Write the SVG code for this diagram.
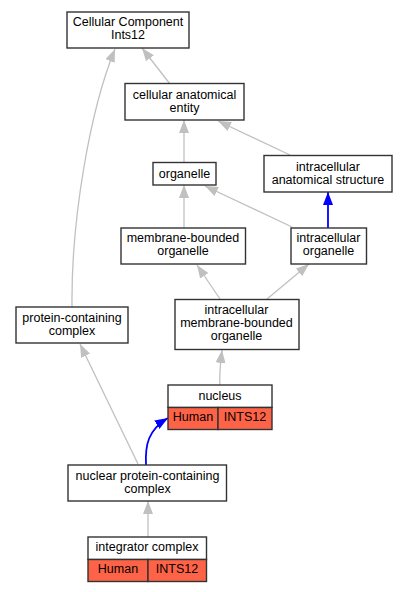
<svg xmlns="http://www.w3.org/2000/svg" width="408" height="592" viewBox="0 0 408 592">
<style>
.box{fill:#fff;stroke:#333;stroke-width:1.4}
.hit{fill:#ff6347;stroke:#333;stroke-width:1.4}
text{font-family:"Liberation Sans",Arial,sans-serif;font-size:12.5px;fill:#000;text-anchor:middle}
.e{fill:none;stroke:#c0c0c0;stroke-width:1.3;marker-end:url(#ag)}
.b{fill:none;stroke:#0000ff;stroke-width:1.8;marker-end:url(#ab)}
</style>
<defs>
<marker id="ag" markerUnits="userSpaceOnUse" markerWidth="13" markerHeight="10" viewBox="0 0 13 10" refX="13" refY="5" orient="auto"><path d="M0,0 L13,5 L0,10 z" fill="#c0c0c0"/></marker>
<marker id="ab" markerUnits="userSpaceOnUse" markerWidth="13" markerHeight="10" viewBox="0 0 13 10" refX="13" refY="5" orient="auto"><path d="M0,0 L13,5 L0,10 z" fill="#0000ff"/></marker>
</defs>
<g id="edges">
<path class="e" d="M170,84 L142,48"/>
<path class="e" d="M72,307 C71,220 90,110 115,49"/>
<path class="e" d="M184,162 L184,120"/>
<path class="e" d="M290,155 L218,121"/>
<path class="e" d="M184,228 L184,185"/>
<path class="e" d="M292,227 L205,186"/>
<path class="b" d="M328,228 L328,192"/>
<path class="e" d="M220,299 L197,265"/>
<path class="e" d="M267,299 L309,264"/>
<path class="e" d="M220,385 C219,375 220,368 222,350"/>
<path class="e" d="M138,464 L80,344"/>
<path class="b" d="M146,465 C145,445 148,430 168,418"/>
<path class="e" d="M148,537 L148,501"/>
</g>
<g id="cc"><rect class="box" x="67" y="12" width="122" height="36"/><text x="128" y="26">Cellular Component</text><text x="128" y="39">Ints12</text></g>
<g id="cae"><rect class="box" x="125" y="83.5" width="119" height="36.5"/><text x="184.5" y="98.5">cellular anatomical</text><text x="184.5" y="111.5">entity</text></g>
<g id="organelle"><rect class="box" x="153" y="162.5" width="63" height="22.5"/><text x="184.5" y="177.5">organelle</text></g>
<g id="ias"><rect class="box" x="264" y="155.5" width="128" height="36.5"/><text x="328" y="170.5">intracellular</text><text x="328" y="183.5">anatomical structure</text></g>
<g id="mbo"><rect class="box" x="121" y="228" width="124.5" height="36"/><text x="183" y="242">membrane-bounded</text><text x="183" y="255">organelle</text></g>
<g id="io"><rect class="box" x="291" y="228" width="75.5" height="36"/><text x="328.5" y="242">intracellular</text><text x="328.5" y="255">organelle</text></g>
<g id="pcc"><rect class="box" x="16" y="307" width="112" height="36"/><text x="72" y="322">protein-containing</text><text x="72" y="334.5">complex</text></g>
<g id="imbo"><rect class="box" x="175" y="299.5" width="124" height="50"/><text x="236.5" y="314">intracellular</text><text x="236.5" y="327">membrane-bounded</text><text x="236.5" y="340">organelle</text></g>
<g id="nucleus"><rect class="box" x="168" y="385" width="104" height="22.5"/><rect class="hit" x="168" y="407.5" width="50" height="22"/><rect class="hit" x="218" y="407.5" width="54" height="22"/><text x="220" y="399.5">nucleus</text><text x="193" y="421">Human</text><text x="245" y="421">INTS12</text></g>
<g id="npcc"><rect class="box" x="68" y="465" width="158.5" height="36"/><text x="147.5" y="479.5">nuclear protein-containing</text><text x="147.5" y="493">complex</text></g>
<g id="ic"><rect class="box" x="88" y="537" width="118.5" height="22.5"/><rect class="hit" x="88" y="559.5" width="60" height="22"/><rect class="hit" x="148" y="559.5" width="58.5" height="22"/><text x="147" y="551">integrator complex</text><text x="118" y="573">Human</text><text x="177" y="573">INTS12</text></g>
</svg>
